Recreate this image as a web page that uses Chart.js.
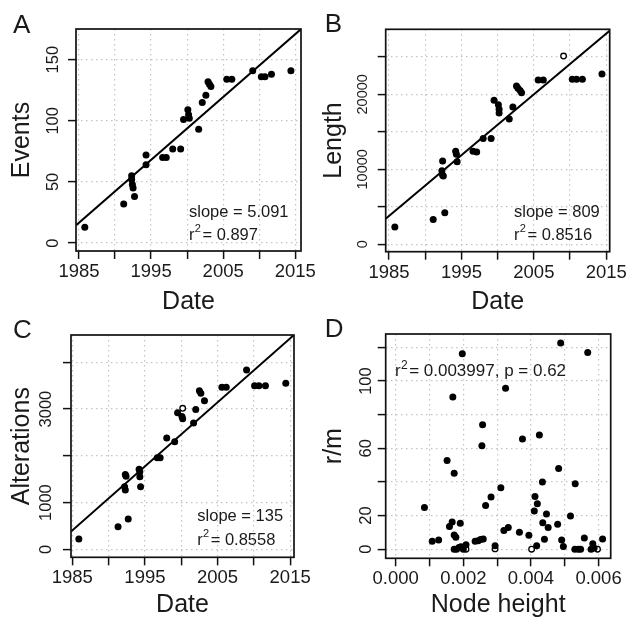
<!DOCTYPE html>
<html>
<head>
<meta charset="utf-8">
<script src="https://cdn.jsdelivr.net/npm/chart.js@4.4.1/dist/chart.umd.min.js"></script>
<style>
    body { margin: 0; background: #fff; }
    #wrap { position: relative; width: 626px; height: 620px; overflow: hidden; }
    canvas { position: absolute; }
</style>
</head>
<body>
<div id="wrap">
    <canvas id="chartA" width="317" height="320" style="left:0;top:0"></canvas>
    <canvas id="chartB" width="313" height="320" style="left:313px;top:0"></canvas>
    <canvas id="chartC" width="313" height="310" style="left:0;top:310px"></canvas>
    <canvas id="chartD" width="313" height="310" style="left:313px;top:310px"></canvas>
</div>
<script>
const FONT = '"Liberation Sans", Arial, sans-serif';
const INK = '#1a1a1a';

// A: events vs date
const dateA = [1985.8, 1991.2, 1992.7, 1992.3, 1992.3, 1992.4, 1992.5, 1994.3, 1994.3, 1996.6, 1997.1, 1998.0, 1999.1,
    1999.5, 2000.1, 2000.2, 2000.3, 2001.6, 2002.1, 2002.6, 2002.9, 2003.1, 2003.3, 2005.5, 2006.2, 2009.1, 2010.3,
    2010.8, 2011.7, 2014.4];
const eventsA = [13, 32, 38, 55, 52, 48, 45, 72, 64, 70, 70, 77, 77, 101, 109, 105, 102, 93, 115, 121, 132, 130, 128,
    134, 134, 141, 136, 136, 138, 141];
const fitDateA = [1984.6, 2015.8];
const fitEventsA = [14.6, 175];

// B: length vs date
const dateB = [1985.8, 1991.1, 1992.7, 1992.4, 1992.3, 1992.4, 1992.5, 1994.2, 1994.3, 1994.4, 1996.6, 1997.1, 1998.0,
    1999.1, 1999.5, 2000.1, 2000.2, 2000.2, 2001.6, 2002.1, 2002.6, 2002.8, 2003.1, 2003.3, 2005.6, 2006.3, 2010.3,
    2010.9, 2011.7, 2014.4];
const lengthB = [2300, 3300, 4200, 11100, 9800, 9200, 9100, 12400, 12000, 11000, 12400, 12300, 14100, 14100, 19200,
    18600, 18000, 17500, 16700, 18300, 21100, 20800, 20500, 20200, 21900, 21900, 22000, 22000, 22000, 22700];
const openDateB = [2009.1];
const openLengthB = [25100];
const fitDateB = [1984.54, 2015.5];
const fitLengthB = [3420, 28500];

// C: alterations vs date
const dateC = [1985.9, 1991.3, 1992.7, 1992.3, 1992.4, 1992.2, 1992.3, 1994.2, 1994.3, 1994.3, 1994.4, 1996.7, 1997.1,
    1998.0, 1999.1, 1999.5, 2000.1, 2000.2, 2001.7, 2002.0, 2002.5, 2002.7, 2003.2, 2005.6, 2006.2, 2009.0, 2010.1,
    2010.7, 2011.6, 2014.4];
const altC = [220, 480, 650, 1600, 1560, 1340, 1270, 1710, 1660, 1550, 1340, 1960, 1960, 2380, 2300, 2920, 2840, 2790,
    2700, 2990, 3390, 3340, 3180, 3465, 3465, 3835, 3500, 3500, 3500, 3550];
const openDateC = [2000.2];
const openAltC = [3016];
const fitDateC = [1984.82, 2015.53];
const fitAltC = [380, 4584];

// D: r/m vs node height
const nodeD = [0.00197, 0.00488, 0.00568, 0.00325, 0.00169, 0.00257, 0.00255, 0.00375, 0.00425, 0.00152, 0.00173,
    0.00482, 0.00434, 0.00531, 0.00085, 0.00311, 0.00282, 0.00266, 0.00412, 0.00419, 0.0041, 0.00446, 0.00517,
    0.00167, 0.00159, 0.00191, 0.00435, 0.00451, 0.00479, 0.0032, 0.00333, 0.00366, 0.00394, 0.00173, 0.00178,
    0.00108, 0.00127, 0.00235, 0.00244, 0.00251, 0.00259, 0.0044, 0.00558, 0.00612, 0.00491, 0.00496, 0.00417,
    0.00583, 0.00294, 0.00173, 0.0018, 0.00187, 0.00193, 0.002, 0.00208, 0.0053, 0.00547, 0.00578, 0.00587];
const rmD = [116.2, 122.6, 117, 95.8, 90.5, 74, 61.5, 65.5, 67.9, 52.7, 45.2, 48, 40, 38.9, 24.8, 36.5, 31, 26, 31.3,
    27, 22.8, 21, 19.8, 16.2, 13.5, 15.5, 15.8, 12.9, 14.9, 11.1, 12.9, 10.1, 8.3, 8.5, 7.1, 4.8, 5.5, 4.8, 5, 5.8,
    6.1, 5.9, 6.7, 6.1, 5.5, 1.6, 2, 3.2, 2.1, 0, 0, 1, 1.5, 0, 2.6, 0, 0, 0, 0.8];
const openNodeD = [0.00294, 0.00208, 0.00402, 0.0054, 0.00597];
const openRmD = [0.2, 0, 0, 0, 0];

// ticks
const dateTicks = [1985, 1990, 1995, 2000, 2005, 2010, 2015];
const dateLabels = ['1985', '', '1995', '', '2005', '', '2015'];
const eventsTicks = [0, 50, 100, 150];
const eventsLabels = ['0', '50', '100', '150'];
const lengthTicks = [0, 5000, 10000, 15000, 20000, 25000];
const lengthLabels = ['0', '', '10000', '', '20000', ''];
const altTicks = [0, 1000, 2000, 3000, 4000];
const altLabels = ['0', '1000', '', '3000', ''];
const nodeTicks = [0, 0.001, 0.002, 0.003, 0.004, 0.005, 0.006];
const nodeLabels = ['0.000', '', '0.002', '', '0.004', '', '0.006'];
const rmTicks = [0, 20, 40, 60, 80, 100, 120];
const rmLabels = ['0', '20', '', '60', '', '100', ''];

const toPts = (xs, ys) => xs.map((x, i) => ({ x: x, y: ys[i] }));

const measureCtx = document.createElement('canvas').getContext('2d');
function widestLabel(labels, size) {
    measureCtx.font = size + 'px ' + FONT;
    return Math.max(...labels.map(l => measureCtx.measureText(l).width));
}

// r^2 with a raised 2
function drawR2(ctx, x, y, rest, size) {
    ctx.font = size + 'px ' + FONT;
    ctx.fillText('r', x, y);
    let w = ctx.measureText('r').width;
    ctx.font = Math.round(size * 0.68) + 'px ' + FONT;
    ctx.fillText('2', x + w + 0.3, y - size * 0.38);
    w += ctx.measureText('2').width + 1.8;
    ctx.font = size + 'px ' + FONT;
    ctx.fillText(rest, x + w, y);
}

const framePlugin = {
    id: 'frame',
    afterDraw(chart) {
        const { ctx, chartArea: a } = chart;
        const p = chart.options.plugins.frame;
        ctx.save();
        ctx.strokeStyle = '#111';
        ctx.lineWidth = 1.7;
        ctx.strokeRect(a.left, a.top, a.right - a.left, a.bottom - a.top);

        ctx.fillStyle = INK;
        ctx.textBaseline = 'alphabetic';
        ctx.textAlign = 'left';
        ctx.font = '26px ' + FONT;
        ctx.fillText(p.letter, p.letterX, p.letterY);

        ctx.textBaseline = 'middle';
        if (p.slope) {
            ctx.font = p.noteSize + 'px ' + FONT;
            ctx.fillText(p.slope, p.noteX, p.noteY);
        }
        drawR2(ctx, p.noteX, p.r2Y, p.r2, p.noteSize);
        ctx.restore();
    }
};

function panel(id, p) {
    const canvas = document.getElementById(id);
    const W = canvas.width, H = canvas.height;
    const a = p.area;
    const tickLen = 8;
    const yPad = p.yLabelDist - tickLen - widestLabel(p.yLabels, p.yFont) / 2;
    const gridStyle = { color: '#c4c4c4', lineWidth: 1.2, tickLength: tickLen, tickColor: '#111', tickWidth: 1.5, tickBorderDash: [] };

    return new Chart(canvas, {
        type: 'scatter',
        data: {
            datasets: [
                { data: p.points, pointRadius: 3.5, pointHoverRadius: 3.5, pointBackgroundColor: '#000', pointBorderWidth: 0 },
                { data: p.open, pointRadius: 2.8, pointHoverRadius: 2.8, pointBackgroundColor: '#fff', pointBorderColor: '#000', pointBorderWidth: 1.3 },
                { data: p.fit, showLine: true, borderColor: '#000', borderWidth: 2, pointRadius: 0, pointHoverRadius: 0 }
            ]
        },
        options: {
            responsive: false,
            animation: false,
            devicePixelRatio: 1,
            events: [],
            layout: { padding: { left: 0, top: a.top, right: W - a.right, bottom: 0 } },
            plugins: {
                legend: { display: false },
                tooltip: { enabled: false },
                frame: p.frame
            },
            scales: {
                x: {
                    type: 'linear',
                    min: p.xMin,
                    max: p.xMax,
                    afterBuildTicks: s => { s.ticks = p.xTicks.map(v => ({ value: v })); },
                    afterFit: s => {
                        s.height = H - a.bottom;
                        s.paddingLeft = s.paddingRight = 0;
                    },
                    grid: gridStyle,
                    border: { display: false, dash: [1.5, 3.5] },
                    ticks: {
                        autoSkip: false, minRotation: 0, maxRotation: 0, padding: 2,
                        color: INK, font: { family: FONT, size: 18.5 },
                        callback: (v, i) => p.xLabels[i]
                    },
                    title: {
                        display: true, text: p.xTitle, color: INK,
                        font: { family: FONT, size: 25 },
                        padding: { top: 0, bottom: p.xTitlePad }
                    }
                },
                y: {
                    type: 'linear',
                    min: p.yMin,
                    max: p.yMax,
                    afterBuildTicks: s => { s.ticks = p.yTicks.map(v => ({ value: v })); },
                    afterFit: s => {
                        s.width = a.left;
                        s.paddingTop = s.paddingBottom = 0;
                    },
                    grid: gridStyle,
                    border: { display: false, dash: [1.5, 3.5] },
                    ticks: {
                        autoSkip: false, minRotation: 90, maxRotation: 90, crossAlign: 'center', padding: yPad,
                        color: INK, font: { family: FONT, size: p.yFont },
                        callback: (v, i) => p.yLabels[i]
                    },
                    title: {
                        display: true, text: p.yTitle, color: INK,
                        font: { family: FONT, size: 25 },
                        padding: { top: p.yTitlePad, bottom: 0 }
                    }
                }
            }
        },
        plugins: [framePlugin]
    });
}

document.addEventListener('DOMContentLoaded', () => {
    panel('chartA', {
        area: { left: 76, top: 29, right: 301, bottom: 251 },
        points: toPts(dateA, eventsA), open: [], fit: toPts(fitDateA, fitEventsA),
        xMin: 1984.58, xMax: 2015.8, xTicks: dateTicks, xLabels: dateLabels, xTitle: 'Date', xTitlePad: 3,
        yMin: -6.5, yMax: 175.1, yTicks: eventsTicks, yLabels: eventsLabels, yTitle: 'Events', yTitlePad: 7.5,
        yFont: 16.5, yLabelDist: 22.7,
        frame: { letter: 'A', letterX: 13, letterY: 33, slope: 'slope = 5.091', r2: '= 0.897',
            noteX: 189, noteY: 212, r2Y: 235, noteSize: 16.5 }
    });

    panel('chartB', {
        area: { left: 72.7, top: 29.3, right: 296.7, bottom: 251.7 },
        points: toPts(dateB, lengthB), open: toPts(openDateB, openLengthB), fit: toPts(fitDateB, fitLengthB),
        xMin: 1984.54, xMax: 2015.47, xTicks: dateTicks, xLabels: dateLabels, xTitle: 'Date', xTitlePad: 3,
        yMin: -987, yMax: 28667, yTicks: lengthTicks, yLabels: lengthLabels, yTitle: 'Length', yTitlePad: 6,
        yFont: 14.5, yLabelDist: 22.7,
        frame: { letter: 'B', letterX: 11.7, letterY: 32, slope: 'slope = 809', r2: '= 0.8516',
            noteX: 201, noteY: 212.7, r2Y: 235, noteSize: 16.5 }
    });

    panel('chartC', {
        area: { left: 71, top: 25, right: 294, bottom: 247.3 },
        points: toPts(dateC, altC), open: toPts(openDateC, openAltC), fit: toPts(fitDateC, fitAltC),
        xMin: 1984.82, xMax: 2015.53, xTicks: dateTicks, xLabels: dateLabels, xTitle: 'Date', xTitlePad: 0,
        yMin: -171, yMax: 4584, yTicks: altTicks, yLabels: altLabels, yTitle: 'Alterations', yTitlePad: 7.5,
        yFont: 16.5, yLabelDist: 24.7,
        frame: { letter: 'C', letterX: 13, letterY: 28, slope: 'slope = 135', r2: '= 0.8558',
            noteX: 197.3, noteY: 206.7, r2Y: 230, noteSize: 16.5 }
    });

    panel('chartD', {
        area: { left: 72.7, top: 24, right: 297.7, bottom: 248.3 },
        points: toPts(nodeD, rmD), open: toPts(openNodeD, openRmD), fit: [],
        xMin: -0.000296, xMax: 0.00636, xTicks: nodeTicks, xLabels: nodeLabels, xTitle: 'Node height', xTitlePad: 0,
        yMin: -5.4, yMax: 128, yTicks: rmTicks, yLabels: rmLabels, yTitle: 'r/m', yTitlePad: 6,
        yFont: 16.5, yLabelDist: 19.4,
        frame: { letter: 'D', letterX: 11.7, letterY: 27, slope: null, r2: '= 0.003997, p = 0.62',
            noteX: 82, noteY: 0, r2Y: 61.7, noteSize: 17 }
    });
});
</script>
</body>
</html>
